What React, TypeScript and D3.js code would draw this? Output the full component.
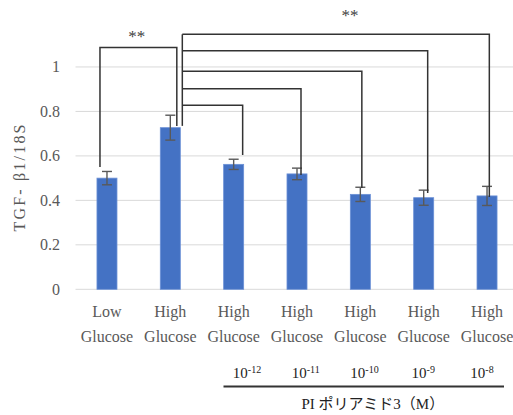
import React from "react";
import * as d3 from "d3";

const categoryTop = ["Low", "High", "High", "High", "High", "High", "High"];
const categoryBottom = ["Glucose", "Glucose", "Glucose", "Glucose", "Glucose", "Glucose", "Glucose"];
const values = [0.5, 0.727, 0.562, 0.519, 0.427, 0.412, 0.42];
const errors = [0.03, 0.056, 0.023, 0.026, 0.032, 0.034, 0.043];
const yTicks = [0, 0.2, 0.4, 0.6, 0.8, 1];
const concExponents = ["-12", "-11", "-10", "-9", "-8"];
const groupTargets = [2, 3, 4, 5, 6];
const groupLevels = [0.828, 0.902, 0.981, 1.073, 1.147];
const groupEnds = [0.604, 0.514, 0.456, 0.433, 0.415];
const groupOffsets = [9, 4, 1.5, 4, 2.3];
const firstBracket = { from: 0, to: 1, level: 1.087, fromEnd: 0.55, toEnd: 0.735 };

const W = 513;
const H = 415;
const BLUE = "#4472C4";
const GRAY = "#595959";
const LINE = "#333333";
const FONT = "Liberation Serif, DejaVu Serif, Times New Roman, serif";
const JFONT = "Liberation Serif, Noto Sans CJK JP, serif";

export default function App() {
  const ids = values.map((_, i) => i);
  const x = d3.scaleBand<number>().domain(ids).range([75.3, 518.7]).padding(0);
  const bw = x.bandwidth();
  const barW = bw * 0.316;
  const cx = (i: number) => (x(i) as number) + bw / 2;
  const y = d3.scaleLinear().domain([0, 1.2]).range([289.3, 22.5]);
  const concX = d3.scalePoint<string>().domain(concExponents).range([247, 482]);

  const groupX = cx(1) + 12;

  return (
    <svg width={W} height={H} style={{ position: "absolute", left: 0, top: 0, background: "#fff" }}>
      {yTicks.map((t) => (
        <line key={t} x1={75.5} x2={W} y1={y(t)} y2={y(t)} stroke="#d9d9d9" strokeWidth={1} />
      ))}
      {yTicks.map((t) => (
        <text key={"l" + t} x={60} y={y(t)} dy="0.33em" textAnchor="end" style={{ fontFamily: FONT }} fontSize={16} fill={GRAY}>
          {t === 0 || t === 1 ? String(t) : t.toFixed(1)}
        </text>
      ))}
      <text
        transform={`translate(24.5,178) rotate(-90)`}
        textAnchor="middle"
        style={{ fontFamily: FONT }}
        fontSize={16}
        fill={GRAY}
        textLength={107}
        lengthAdjust="spacing"
      >
        TGF- β1/18S
      </text>
      {values.map((v, i) => (
        <rect key={"b" + i} x={cx(i) - barW / 2} y={y(v)} width={barW} height={y(0) - y(v)} fill={BLUE} stroke="#6b90d6" strokeWidth={0.8} />
      ))}
      {values.map((v, i) => (
        <g key={"e" + i} stroke={GRAY} strokeWidth={1.4}>
          <line x1={cx(i)} x2={cx(i)} y1={y(v + errors[i])} y2={y(v - errors[i])} />
          <line x1={cx(i) - 5} x2={cx(i) + 5} y1={y(v + errors[i])} y2={y(v + errors[i])} />
          <line x1={cx(i) - 5} x2={cx(i) + 5} y1={y(v - errors[i])} y2={y(v - errors[i])} />
        </g>
      ))}
      {values.map((_, i) => (
        <g key={"x" + i} style={{ fontFamily: FONT }} fontSize={16} fill={GRAY} textAnchor="middle">
          <text x={cx(i)} y={316.5}>{categoryTop[i]}</text>
          <text x={cx(i)} y={341.5}>{categoryBottom[i]}</text>
        </g>
      ))}
      <path
        d={`M${cx(firstBracket.from) - 7},${y(firstBracket.fromEnd)} V${y(firstBracket.level)} H${cx(firstBracket.to) + 6.5} V${y(firstBracket.toEnd)}`}
        fill="none"
        stroke={LINE}
        strokeWidth={1.5}
      />
      <text x={(cx(0) + cx(1)) / 2 - 2} y={42} textAnchor="middle" style={{ fontFamily: FONT }} fontSize={17} fill="#404040" opacity={0.99}>**</text>
      <line x1={groupX} x2={groupX} y1={y(groupLevels[groupLevels.length - 1])} y2={y(0.735)} stroke={LINE} strokeWidth={1.5} />
      {groupTargets.map((t, k) => (
        <path
          key={"g" + t}
          d={`M${groupX},${y(groupLevels[k])} H${cx(t) + groupOffsets[k]} V${y(groupEnds[k])}`}
          fill="none"
          stroke={LINE}
          strokeWidth={1.5}
        />
      ))}
      <text x={350} y={21} textAnchor="middle" style={{ fontFamily: FONT }} fontSize={17} fill="#404040" opacity={0.99}>**</text>
      {concExponents.map((e) => (
        <text key={"c" + e} x={concX(e)} y={378} textAnchor="middle" style={{ fontFamily: FONT }} fontSize={15} fill="#222">
          10<tspan fontSize={10} dy={-5}>{e}</tspan>
        </text>
      ))}
      <line x1={223.5} x2={504} y1={386.5} y2={386.5} stroke={LINE} strokeWidth={1.8} />
      <text x={301.5} y={409} style={{ fontFamily: JFONT }} fontSize={15} fill="#222">PI ポリアミド3（M）</text>
    </svg>
  );
}
